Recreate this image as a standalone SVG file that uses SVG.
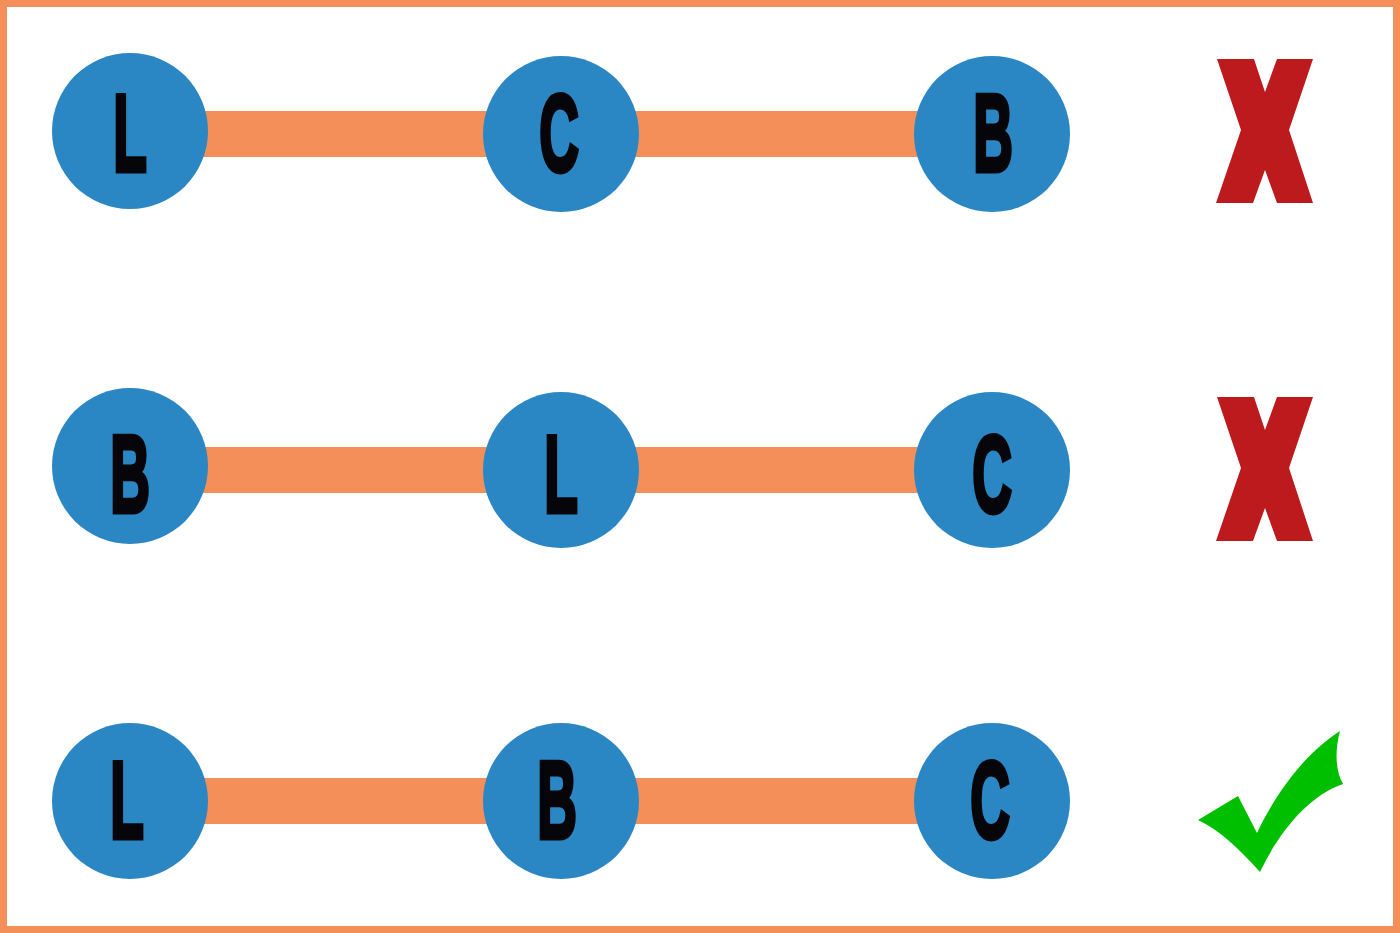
<svg xmlns="http://www.w3.org/2000/svg" width="1400" height="933" viewBox="0 0 1400 933">
<defs>
<style>
.bar{fill:#F48F59}
.node circle{fill:#2A87C3}
.node text{font-family:"Liberation Sans",Arial,sans-serif;font-weight:bold;font-size:110px;fill:#05050A;stroke:#05050A;stroke-width:5;stroke-linejoin:miter;text-anchor:middle}
.x{fill:#BC1A1C}
.ok{fill:#00BE00}
</style>
</defs>
<rect x="3.5" y="3.5" width="1393" height="926" fill="#ffffff" stroke="#F48F59" stroke-width="7"/>
<g id="connectors">
<rect class="bar" x="200" y="111" width="370" height="46"/>
<rect class="bar" x="555" y="111" width="440" height="46"/>
<rect class="bar" x="200" y="447" width="370" height="46"/>
<rect class="bar" x="555" y="447" width="440" height="46"/>
<rect class="bar" x="200" y="778" width="370" height="46"/>
<rect class="bar" x="555" y="778" width="440" height="46"/>
</g>
<g id="n1" class="node"><circle cx="130" cy="131" r="78"/><text transform="translate(130,171) scale(0.5,1)">L</text></g>
<g id="n2" class="node"><circle cx="561" cy="134" r="78"/><text transform="translate(559,171) scale(0.5,1)">C</text></g>
<g id="n3" class="node"><circle cx="992" cy="134" r="78"/><text transform="translate(993,171) scale(0.5,1)">B</text></g>
<g id="n4" class="node"><circle cx="130" cy="466" r="78"/><text transform="translate(130,512) scale(0.5,1)">B</text></g>
<g id="n5" class="node"><circle cx="561" cy="470" r="78"/><text transform="translate(561,512) scale(0.5,1)">L</text></g>
<g id="n6" class="node"><circle cx="992" cy="470" r="78"/><text transform="translate(992,512) scale(0.5,1)">C</text></g>
<g id="n7" class="node"><circle cx="130" cy="801" r="78"/><text transform="translate(127,838) scale(0.5,1)">L</text></g>
<g id="n8" class="node"><circle cx="561" cy="801" r="78"/><text transform="translate(557,838) scale(0.5,1)">B</text></g>
<g id="n9" class="node"><circle cx="992" cy="801" r="78"/><text transform="translate(990,838) scale(0.5,1)">C</text></g>
<g id="mark1"><polygon class="x" points="1217,59 1254,59 1265,92 1277,59 1313,59 1289,130 1313,203 1277,203 1265,170 1253,203 1216,203 1241,130"/></g>
<g id="mark2"><polygon class="x" transform="translate(0,338)" points="1217,59 1254,59 1265,92 1277,59 1313,59 1289,130 1313,203 1277,203 1265,170 1253,203 1216,203 1241,130"/></g>
<g id="mark3"><path class="ok" d="M1198,820 L1238,796 L1257,833 C1280,785 1310,750 1340,731 C1335,750 1335,770 1343,784 C1310,795 1280,830 1260,872 C1240,850 1220,830 1198,820 Z"/></g>
</svg>
